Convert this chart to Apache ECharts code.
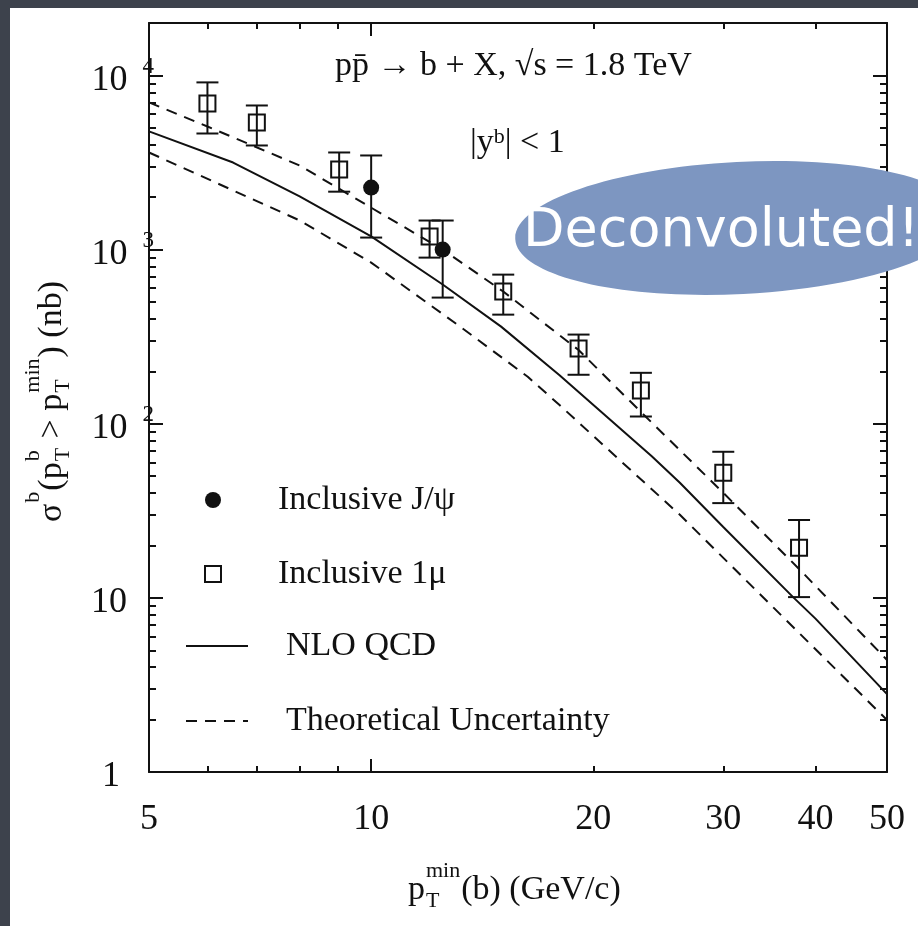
<!DOCTYPE html>
<html>
<head>
<meta charset="utf-8">
<script src="https://cdn.jsdelivr.net/npm/echarts@6/dist/echarts.min.js"></script>
<style>
  html, body { margin: 0; padding: 0; background: #3d424c; }
  #chart { width: 918px; height: 926px; }
</style>
</head>
<body>
<div id="chart"></div>
<script>
// Inclusive b-quark cross section above a pT threshold, p-pbar at 1.8 TeV

// Inclusive single-muon measurement
const ptMuon = [6.0, 7.0, 9.05, 12.0, 15.1, 19.1, 23.2, 30.0, 38.0];
const sigmaMuon = [6900, 5370, 2880, 1190, 574, 270, 155, 52.3, 19.4];
const sigmaMuonLow = [4640, 3960, 2150, 899, 423, 191, 110, 35, 10.1];
const sigmaMuonHigh = [9120, 6720, 3610, 1468, 718, 325, 196, 69, 28];

// Inclusive J/psi measurement
const ptJpsi = [10.0, 12.5];
const sigmaJpsi = [2270, 1000];
const sigmaJpsiLow = [1172, 530];
const sigmaJpsiHigh = [3470, 1468];

// NLO QCD prediction and its uncertainty band edges
const nloPt = [5, 6.5, 8, 10, 12.5, 15, 18, 24, 26.2, 30, 37.3, 40, 50];
const nloSigma = [4770, 3160, 2020, 1190, 630, 361, 190, 65, 45.8, 25.5, 10.1, 7.6, 2.8];
const upperPt = [5, 6, 8, 10, 12.5, 15.1, 19.1, 23.1, 30, 38.1, 50];
const upperSigma = [7000, 5090, 3040, 1740, 1000, 574, 265, 119, 40.1, 14.5, 4.4];
const lowerPt = [5, 8, 10, 13.2, 16.3, 18, 21.7, 26.2, 36.1, 50];
const lowerSigma = [3610, 1470, 842, 361, 186, 128, 62, 30, 7.8, 1.99];

// Axis ticks and labels
const xTickLabels = [5, 10, 20, 30, 40, 50];
const xLongTicks = [10];
const xShortTicks = [6, 7, 8, 9, 20, 30, 40];
const yTickLabels = [1, 10, 100, 1000, 10000];
const yMinorTicks = [
  2, 3, 4, 5, 6, 7, 8, 9,
  20, 30, 40, 50, 60, 70, 80, 90,
  200, 300, 400, 500, 600, 700, 800, 900,
  2000, 3000, 4000, 5000, 6000, 7000, 8000, 9000
];

const FONT = "'Liberation Serif', 'Times New Roman', serif";
const INK = '#111111';

const zip = (xs, ys) => xs.map((x, i) => [x, ys[i]]);

const measureCtx = document.createElement('canvas').getContext('2d');
function textWidth(t, size) {
  measureCtx.font = size + 'px ' + FONT;
  return measureCtx.measureText(t).width;
}

// Lays out a run of text with stacked super/subscripts along a baseline
function mathText(runs, big, small, supDy, subDy) {
  const children = [];
  let x = 0;
  const txt = (s, px, x0, y0) => ({
    type: 'text', x: x0, y: y0, silent: true,
    style: { text: s, fontSize: px, fontFamily: FONT, fill: INK, align: 'left', verticalAlign: 'middle' }
  });
  runs.forEach(r => {
    if (typeof r === 'string') {
      children.push(txt(r, big, x, 0));
      x += textWidth(r, big);
    } else {
      let w = 0;
      if (r.sup) { children.push(txt(r.sup, small, x + 1, supDy)); w = Math.max(w, textWidth(r.sup, small)); }
      if (r.sub) { children.push(txt(r.sub, small, x + 1, subDy)); w = Math.max(w, textWidth(r.sub, small)); }
      x += w + 2;
    }
  });
  return children;
}

const logX = { type: 'log', logBase: 10, min: 5, max: 50, splitLine: { show: false } };
const logY = { type: 'log', logBase: 10, min: 1, max: 20000, splitLine: { show: false } };

function tickAxis(base, position, ticks, len) {
  return Object.assign({}, base, {
    position,
    axisLine: { show: false, onZero: false },
    axisTick: { show: true, inside: true, length: len, customValues: ticks, lineStyle: { color: INK, width: 2 } },
    axisLabel: { show: false },
    minorTick: { show: false },
    minorSplitLine: { show: false }
  });
}
function frameAxis(base, position, ticks, len, label) {
  const ax = tickAxis(base, position, ticks, len);
  ax.axisLine = { show: true, onZero: false, lineStyle: { color: INK, width: 2 } };
  if (label) ax.axisLabel = label;
  return ax;
}

const xLabel = {
  show: true,
  customValues: xTickLabels,
  margin: 30,
  fontSize: 36,
  fontFamily: FONT,
  color: INK,
  formatter: v => String(Math.round(v))
};
const yLabel = {
  show: true,
  customValues: yTickLabels,
  margin: -5,
  formatter: v => {
    const e = Math.round(Math.log10(v));
    if (e === 0) return '{n|1}{pad1|}';
    if (e === 1) return '{n|10}{pad|}';
    return '{n|10}{sup|' + e + '}';
  },
  rich: {
    n: { fontSize: 36, fontFamily: FONT, color: INK, padding: [10, 0, 0, 0] },
    sup: { fontSize: 23, fontFamily: FONT, color: INK, verticalAlign: 'top', padding: [3, 0, 0, 15] },
    pad: { width: 27 },
    pad1: { width: 34 }
  }
};

function errorBars(name, xs, lows, highs) {
  return {
    type: 'custom',
    name,
    xAxisIndex: 0,
    yAxisIndex: 0,
    z: 4,
    silent: true,
    data: xs.map((x, i) => [x, lows[i], highs[i]]),
    encode: { x: 0, y: [1, 2] },
    renderItem: (params, api) => {
      const x = api.value(0);
      const lo = api.coord([x, api.value(1)]);
      const hi = api.coord([x, api.value(2)]);
      const half = 11;
      const st = { stroke: INK, lineWidth: 2 };
      return {
        type: 'group',
        children: [
          { type: 'line', shape: { x1: lo[0], y1: lo[1], x2: hi[0], y2: hi[1] }, style: st },
          { type: 'line', shape: { x1: hi[0] - half, y1: hi[1], x2: hi[0] + half, y2: hi[1] }, style: st },
          { type: 'line', shape: { x1: lo[0] - half, y1: lo[1], x2: lo[0] + half, y2: lo[1] }, style: st }
        ]
      };
    }
  };
}

const legendText = pad => ({ fontSize: 34, fontFamily: FONT, color: INK, padding: [0, 0, 0, pad] });
const dash = [11, 8];
const noMarker = { color: 'rgba(0,0,0,0)', borderColor: 'rgba(0,0,0,0)', borderWidth: 0, opacity: 0 };

const option = {
  backgroundColor: '#3d424c',
  animation: false,
  grid: { left: 149, top: 23, right: 31, bottom: 154, outerBoundsMode: 'none' },
  xAxis: [
    frameAxis(logX, 'bottom', xLongTicks, 13, xLabel),
    tickAxis(logX, 'bottom', xShortTicks, 6),
    frameAxis(logX, 'top', xLongTicks, 13),
    tickAxis(logX, 'top', xShortTicks, 6)
  ],
  yAxis: [
    frameAxis(logY, 'left', yTickLabels, 14, yLabel),
    tickAxis(logY, 'left', yMinorTicks, 7),
    frameAxis(logY, 'right', yTickLabels, 14),
    tickAxis(logY, 'right', yMinorTicks, 7)
  ],
  legend: [
    {
      orient: 'vertical', left: 204, top: 483, padding: 0, itemWidth: 16, itemHeight: 16, itemGap: 40,
      selectedMode: false, data: ['Inclusive J/ψ', 'Inclusive 1μ'], textStyle: legendText(52)
    },
    {
      orient: 'vertical', left: 185, top: 629, padding: 0, itemWidth: 62, itemHeight: 14, itemGap: 41,
      selectedMode: false, data: ['NLO QCD', 'Theoretical Uncertainty'], textStyle: legendText(33),
      itemStyle: noMarker
    }
  ],
  series: [
    {
      type: 'line', name: 'NLO QCD', data: zip(nloPt, nloSigma), symbol: 'none', smooth: false,
      lineStyle: { color: INK, width: 2 }, itemStyle: { color: INK }, z: 3
    },
    {
      type: 'line', name: 'Theoretical Uncertainty', data: zip(upperPt, upperSigma), symbol: 'none', smooth: false,
      lineStyle: { color: INK, width: 2, type: dash }, itemStyle: { color: INK }, z: 3
    },
    {
      type: 'line', name: 'Theoretical Uncertainty', data: zip(lowerPt, lowerSigma), symbol: 'none', smooth: false,
      lineStyle: { color: INK, width: 2, type: dash }, itemStyle: { color: INK }, z: 3
    },
    errorBars('1μ errors', ptMuon, sigmaMuonLow, sigmaMuonHigh),
    errorBars('J/ψ errors', ptJpsi, sigmaJpsiLow, sigmaJpsiHigh),
    {
      type: 'scatter', name: 'Inclusive 1μ', data: zip(ptMuon, sigmaMuon), symbol: 'rect', symbolSize: 16,
      itemStyle: { color: 'rgba(255,255,255,0)', borderColor: INK, borderWidth: 2, opacity: 1 }, z: 5
    },
    {
      type: 'scatter', name: 'Inclusive J/ψ', data: zip(ptJpsi, sigmaJpsi), symbol: 'circle', symbolSize: 16,
      itemStyle: { color: INK, opacity: 1 }, z: 5
    }
  ],
  graphic: [
    { type: 'rect', z: -100, silent: true, shape: { x: 10, y: 8, width: 908, height: 918 }, style: { fill: '#ffffff' } },
    {
      type: 'text', x: 335, y: 66, silent: true,
      style: { text: 'pp\u0304 \u2192 b + X, \u221As = 1.8 TeV', fontSize: 34, fontFamily: FONT, fill: INK, verticalAlign: 'middle' }
    },
    {
      type: 'text', x: 470, y: 143, silent: true,
      style: {
        text: '{n||y}{s|b}{n|| < 1}', verticalAlign: 'middle',
        rich: {
          n: { fontSize: 34, fontFamily: FONT, fill: INK },
          s: { fontSize: 22, fontFamily: FONT, fill: INK, verticalAlign: 'top' }
        }
      }
    },
    {
      type: 'group', x: 408, y: 890, silent: true,
      children: mathText(['p', { sup: 'min', sub: 'T' }, '(b) (GeV/c)'], 34, 22, -19, 11)
    },
    {
      type: 'group', x: 52, y: 522, rotation: Math.PI / 2, silent: true,
      children: mathText(['σ', { sup: 'b' }, '(p', { sup: 'b', sub: 'T' }, ' > p', { sup: 'min', sub: 'T' }, ') (nb)'], 34, 22, -19, 11)
    },
    {
      type: 'ellipse', x: 740, y: 228, rotation: 0.05, z: 50, silent: true,
      shape: { cx: 0, cy: 0, rx: 225, ry: 66 }, style: { fill: '#7d96c1' }
    },
    {
      type: 'text', x: 523, y: 232, z: 51, silent: true,
      style: { text: 'Deconvoluted!', fontSize: 54, fontFamily: "'DejaVu Sans', sans-serif", fill: '#ffffff', verticalAlign: 'middle' }
    }
  ]
};

const chart = echarts.init(document.getElementById('chart'));
chart.setOption(option);
</script>
</body>
</html>
